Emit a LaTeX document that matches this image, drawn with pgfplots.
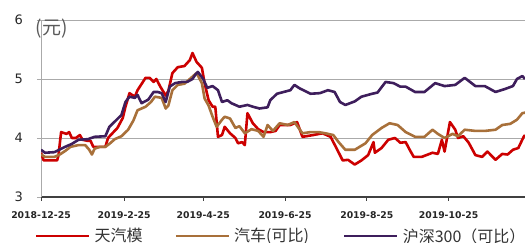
\documentclass[border=0pt]{standalone}
\usepackage{pgfplots}
\pgfplotsset{compat=1.18}
\usepackage{fontspec}
\setmainfont{DejaVu Sans}
\newfontfamily\cjk{Noto Sans CJK SC}
\definecolor{cred}{RGB}{204,0,0}
\definecolor{cbrown}{RGB}{168,112,58}
\definecolor{cpurple}{RGB}{62,30,92}
\definecolor{gridc}{RGB}{170,170,170}
\definecolor{axc}{RGB}{64,64,64}
\begin{document}
\begin{tikzpicture}
\path[use as bounding box] (0pt,0pt) rectangle (525pt,243pt);
\begin{axis}[
  at={(41pt,46pt)}, anchor=south west,
  scale only axis, width=484pt, height=177pt,
  xmin=0, xmax=361, ymin=3, ymax=6,
  clip mode=individual,
  axis x line*=bottom, axis y line*=left,
  x axis line style={draw=axc, line width=1.2pt, -},
  y axis line style={draw=gridc, line width=0.9pt, -},
  xtick={0,62,121,182,243,304},
  xticklabels={2018-12-25,2019-2-25,2019-4-25,2019-6-25,2019-8-25,2019-10-25},
  ytick={3,4,5,6}, yticklabels={3,4,5,6},
  tick align=outside, major tick length=4pt,
  xtick style={draw=axc, line width=1pt},
  ytick style={draw=gridc, line width=0.9pt},
  ymajorgrids, grid style={draw=gridc, line width=0.9pt},
  xticklabel style={font=\fontsize{9.3}{10}\selectfont\bfseries, text=black!85, inner sep=0pt, anchor=north, yshift=-10pt},
  yticklabel style={font=\fontsize{13}{13}\selectfont, text=black!85, inner sep=0pt, anchor=east, xshift=-14pt},
  legend style={draw=none, fill=none, inner sep=0pt, outer sep=0pt,
    at={(axis description cs:-0.0124,-0.220)}, anchor=west,
    legend columns=3, font=\cjk\fontsize{16}{16}\selectfont, text=black!80,
    nodes={inner sep=0pt},
    /tikz/every odd column/.append style={column sep=4pt},
    /tikz/every even column/.append style={column sep=0pt}},
  legend image code/.code={\draw[#1] (0pt,0pt) -- (53pt,0pt);},
  every axis plot/.append style={line width=2.6pt, line join=round},
]
\addplot[cred] coordinates {
(0,3.75)(2,3.62)(12,3.62)(13,3.70)(15,4.10)(19,4.07)(21,4.10)(23,4.00)(26,4.00)(29,4.05)
(31,3.97)(35,3.95)(37,3.95)(39,3.85)(44,3.85)(48,3.85)(50,4.00)(52,4.05)(57,4.17)(61,4.34)
(63,4.53)(66,4.76)(70,4.70)(72,4.81)(76,4.95)(78,5.02)(81,5.02)(84,4.95)(86,5.00)(89,4.87)
(93,4.72)(95,4.80)(98,5.10)(102,5.20)(107,5.22)(111,5.32)(113,5.44)(116,5.29)(120,5.19)(122,4.93)
(125,4.64)(128,4.53)(130,4.53)(132,4.02)(135,4.05)(137,4.19)(141,4.08)(145,4.00)(147,3.91)(150,3.93)
(152,3.88)(154,4.42)(158,4.25)(162,4.15)(166,4.10)(171,4.10)(175,4.12)(178,4.22)(186,4.22)(191,4.27)
(195,4.02)(203,4.05)(210,4.08)(216,4.02)(221,3.80)(225,3.62)(229,3.63)(234,3.55)(239,3.62)(244,3.71)
(248,3.93)(249,3.75)(254,3.83)(259,3.97)(264,4.00)(268,3.92)(272,3.93)(275,3.80)(278,3.68)(284,3.68)
(292,3.75)(296,3.73)(299,3.97)(301,3.77)(305,4.27)(309,4.14)(311,4.00)(315,4.03)(319,3.92)(324,3.71)
(329,3.68)(333,3.77)(339,3.63)(344,3.73)(348,3.72)(352,3.80)(356,3.83)(360,4.02)(361,4.05)
};
\addlegendentry{\makebox[80pt][l]{天汽模}}
\addplot[cbrown] coordinates {
(0,3.72)(3,3.68)(10,3.68)(14,3.72)(18,3.78)(22,3.85)(28,3.88)(33,3.88)(36,3.80)(38,3.72)
(40,3.82)(44,3.85)(48,3.85)(51,3.90)(55,3.98)(60,4.03)(65,4.14)(69,4.30)(72,4.47)(78,4.53)
(82,4.61)(85,4.70)(90,4.68)(93,4.50)(95,4.55)(98,4.81)(102,4.90)(107,4.92)(113,5.04)(116,5.10)
(120,4.93)(122,4.67)(125,4.55)(128,4.36)(131,4.19)(135,4.31)(137,4.36)(141,4.33)(145,4.17)(148,4.20)
(152,4.08)(157,4.15)(162,4.12)(166,4.02)(169,4.22)(173,4.12)(178,4.25)(184,4.22)(189,4.27)(195,4.08)
(201,4.10)(207,4.10)(212,4.08)(218,4.05)(222,3.93)(227,3.80)(234,3.80)(242,3.91)(247,4.05)(254,4.17)
(260,4.25)(266,4.22)(272,4.10)(279,4.02)(286,4.02)(292,4.14)(296,4.07)(301,4.00)(307,4.07)(311,4.03)
(316,4.14)(324,4.12)(331,4.12)(339,4.14)(344,4.22)(350,4.24)(355,4.31)(359,4.42)(361,4.43)
};
\addlegendentry{\makebox[109pt][l]{汽车(可比)}}
\addplot[cpurple] coordinates {
(0,3.80)(3,3.75)(10,3.76)(18,3.85)(23,3.90)(28,3.97)(35,3.98)(40,4.02)(48,4.03)(51,4.19)
(56,4.30)(60,4.39)(63,4.61)(66,4.70)(70,4.68)(72,4.73)(75,4.59)(80,4.65)(84,4.78)(87,4.78)
(90,4.76)(93,4.61)(96,4.87)(100,4.93)(105,4.95)(109,4.95)(113,5.00)(115,5.07)(117,5.12)(121,5.00)
(124,4.85)(128,4.88)(132,4.81)(135,4.61)(139,4.64)(142,4.59)(148,4.53)(154,4.56)(158,4.53)(163,4.50)
(169,4.52)(171,4.64)(176,4.75)(181,4.78)(186,4.81)(189,4.90)(193,4.84)(201,4.75)(208,4.76)(214,4.81)
(219,4.78)(223,4.61)(227,4.56)(234,4.62)(239,4.70)(247,4.75)(251,4.77)(257,4.95)(263,4.93)(268,4.87)
(272,4.87)(279,4.78)(286,4.78)(294,4.93)(301,4.88)(309,4.90)(316,5.02)(324,4.88)(331,4.88)(339,4.78)
(346,4.83)(352,4.88)(355,5.00)(359,5.05)(361,5.00)
};
\addlegendentry{沪深300（可比）}
\node[font=\cjk\fontsize{19}{19}\selectfont, text=black!65, inner sep=0pt] at (axis description cs:0.022,0.953) {(元)};
\end{axis}
\end{tikzpicture}
\end{document}
